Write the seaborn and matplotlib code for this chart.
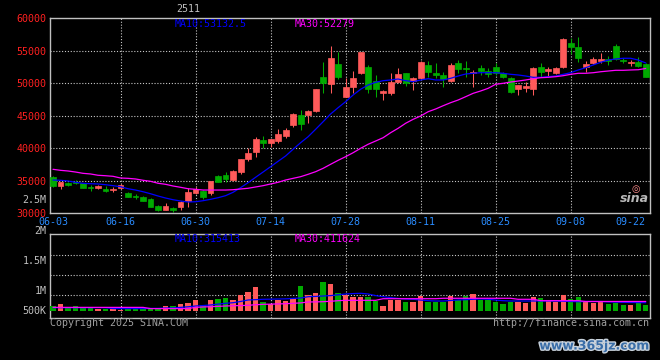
import numpy as np
import pandas as pd
import matplotlib
matplotlib.use("Agg")
import matplotlib.pyplot as plt
import matplotlib.patheffects as pe
import seaborn as sns

# trading days shown (06-03 .. 09-22)
dates = ["06-03", "06-04", "06-05", "06-06", "06-09", "06-10", "06-11", "06-12", "06-13", "06-16",
         "06-17", "06-18", "06-19", "06-20", "06-23", "06-24", "06-25", "06-26", "06-27", "06-30",
         "07-01", "07-02", "07-03", "07-04", "07-07", "07-08", "07-09", "07-10", "07-11", "07-14",
         "07-15", "07-16", "07-17", "07-18", "07-21", "07-22", "07-23", "07-24", "07-25", "07-28",
         "07-29", "07-30", "07-31", "08-01", "08-04", "08-05", "08-06", "08-07", "08-08", "08-11",
         "08-12", "08-13", "08-14", "08-15", "08-18", "08-19", "08-20", "08-21", "08-22", "08-25",
         "08-26", "08-27", "08-28", "08-29", "09-01", "09-02", "09-03", "09-04", "09-05", "09-08",
         "09-09", "09-10", "09-11", "09-12", "09-15", "09-16", "09-17", "09-18", "09-19", "09-22"]

open_ = [35630, 34200, 34710, 34820, 34620, 34100, 33890, 33780, 33540, 33850,
         33170, 32710, 32550, 32150, 31120, 30510, 30860, 30920, 31890, 33080,
         33480, 33170, 35740, 35890, 35120, 36350, 38310, 39430, 41230, 40860,
         41120, 41890, 43590, 45120, 45120, 45740, 50970, 49940, 52970, 47940,
         49480, 51660, 52550, 50400, 48460, 48550, 50250, 51540, 50350, 50770,
         52820, 51630, 51280, 50400, 53080, 52400, 51540, 52400, 51940, 52460,
         51540, 50860, 49120, 49320, 49120, 52510, 51890, 51630, 52460, 56250,
         55630, 52460, 53170, 53430, 53740, 55790, 53590, 53170, 53320, 52970]
high = [35700, 34830, 34860, 35120, 34700, 34350, 34350, 34200, 34000, 34510,
        33300, 33020, 32600, 32310, 31280, 31590, 31020, 31850, 33850, 34000,
        33600, 35000, 35940, 36350, 36600, 38400, 40000, 41740, 41890, 41500,
        42970, 43080, 45450, 45890, 45850, 49150, 53280, 55740, 54820, 50770,
        51890, 54850, 52820, 51280, 48970, 51540, 52310, 51600, 50900, 53480,
        53430, 53080, 51790, 53080, 53590, 53430, 52050, 52820, 52310, 53080,
        51790, 51020, 49800, 50250, 52550, 53080, 52550, 52450, 56900, 56920,
        57080, 53430, 54000, 54620, 54200, 56050, 53850, 53590, 54090, 53080]
low = [34000, 33780, 34200, 34510, 33900, 33480, 33690, 33300, 33230, 33690,
       32450, 32150, 31900, 30980, 30310, 30450, 30250, 30500, 30970, 32900,
       32250, 32820, 34800, 34860, 35000, 36090, 38050, 38710, 40000, 40250,
       40860, 41630, 43230, 42820, 43940, 45590, 48460, 48550, 50620, 47900,
       48460, 51400, 48460, 47940, 47430, 48200, 50000, 49590, 48970, 50600,
       51020, 50770, 49480, 50250, 51630, 51020, 49390, 51280, 51020, 51280,
       50770, 48460, 48200, 48710, 48200, 51020, 51120, 51500, 52300, 54510,
       53320, 51790, 52920, 53080, 52820, 53590, 53080, 52660, 52550, 50920]
close = [34200, 34815, 34350, 34620, 33940, 33890, 34200, 33480, 33690, 34400,
         32510, 32460, 31940, 31020, 30510, 31120, 30510, 31790, 33230, 33740,
         32550, 34970, 34860, 35280, 36510, 38350, 39280, 41430, 40860, 41430,
         42200, 42820, 45280, 43740, 45740, 49120, 50000, 53890, 51020, 49430,
         50770, 54820, 49080, 49120, 48860, 50250, 51430, 50000, 50860, 53230,
         51690, 51280, 50620, 52820, 52150, 52150, 51790, 51890, 51390, 51540,
         51020, 48710, 49740, 49590, 52400, 51740, 52200, 52400, 56820, 55630,
         53850, 52970, 53740, 53690, 53480, 53690, 53430, 53320, 52710, 51020]

ma10 = [35120, 35080, 34970, 34770, 34610, 34550, 34510, 34400, 34250, 34090,
        33780, 33580, 33320, 33010, 32660, 32350, 32090, 31890, 31740, 31780,
        31940, 32150, 32400, 32710, 33230, 33940, 34710, 35540, 36350, 37170,
        38000, 38820, 39850, 40860, 41780, 42920, 44090, 45280, 46250, 47170,
        48200, 49080, 49740, 50150, 50400, 50510, 50660, 50400, 50250, 50510,
        50710, 50510, 50510, 50770, 51120, 51430, 51540, 51630, 51630, 51630,
        51540, 51380, 51280, 51120, 50920, 50920, 51020, 51120, 51380, 51630,
        52050, 52400, 52820, 53230, 53580, 53740, 53850, 53850, 53580, 53130]
ma30 = [36770, 36610, 36510, 36350, 36150, 36050, 35850, 35780, 35690, 35430,
        35380, 35280, 35080, 34920, 34620, 34460, 34200, 34000, 33780, 33690,
        33580, 33580, 33580, 33580, 33630, 33740, 33850, 34050, 34250, 34510,
        34770, 35120, 35380, 35630, 36000, 36400, 36920, 37540, 38150, 38710,
        39320, 40000, 40620, 41120, 41630, 42400, 43080, 43850, 44460, 44970,
        45630, 46050, 46550, 47020, 47430, 47940, 48460, 48820, 49230, 49850,
        50000, 50200, 50350, 50510, 50710, 50860, 50920, 51020, 51170, 51380,
        51540, 51540, 51630, 51780, 51890, 52000, 52000, 52050, 52090, 52280]

# volume in thousands
volume_k = [234, 283, 192, 234, 192, 177, 160, 160, 160, 136,
            192, 192, 192, 177, 160, 234, 234, 283, 315, 382,
            259, 382, 406, 431, 382, 505, 579, 702, 333, 283,
            382, 357, 424, 727, 505, 554, 825, 776, 554, 517,
            463, 463, 448, 365, 234, 382, 382, 325, 325, 480,
            340, 340, 340, 480, 382, 480, 530, 382, 382, 340,
            283, 340, 340, 301, 456, 424, 365, 325, 505, 406,
            463, 365, 315, 340, 283, 315, 251, 259, 315, 251]
vol_ma10_k = [192, 192, 192, 192, 192, 192, 192, 192, 170, 170,
              170, 170, 170, 175, 175, 185, 185, 200, 215, 234,
              245, 259, 280, 300, 315, 345, 382, 390, 399, 402,
              406, 410, 420, 430, 463, 470, 480, 490, 510, 530,
              540, 547, 530, 490, 463, 440, 420, 406, 400, 380,
              365, 357, 357, 370, 382, 390, 400, 406, 400, 380,
              365, 357, 357, 357, 357, 357, 357, 357, 350, 345,
              340, 345, 345, 345, 335, 330, 325, 320, 318, 315]
vol_ma30_k = [200, 200, 200, 200, 200, 200, 200, 200, 200, 200,
              200, 200, 200, 170, 170, 170, 170, 170, 170, 200,
              210, 217, 225, 234, 240, 245, 251, 265, 275, 280,
              285, 290, 300, 310, 333, 335, 340, 350, 365, 374,
              374, 374, 374, 374, 414, 414, 414, 414, 414, 414,
              414, 414, 424, 424, 424, 424, 424, 424, 424, 424,
              424, 424, 399, 399, 399, 365, 365, 365, 365, 365,
              365, 345, 345, 345, 345, 345, 345, 345, 345, 345]

tick_labels = ["06-03", "06-16", "06-30", "07-14", "07-28", "08-11", "08-25", "09-08", "09-22"]
price_ticks = [30000, 35000, 40000, 45000, 50000, 55000, 60000]
vol_grid = [500000, 1000000, 1500000]
vol_label_text = ["2.5M", "2M", "1.5M", "1M", "500K"]
vol_label_y = [200, 231, 261, 291, 311]   # pixel rows used by the original

title = "2511"
price_ma_text = ["MA10:53132.5", "MA30:52279"]
vol_ma_text = ["MA10:315413", "MA30:411624"]

# styles
UP = "#ff5a5a"
DOWN = "#00aa00"
BLUE = "#0000ff"
MAGENTA = "#ff00ff"
GRAY = "#c0c0c0"
DATE_BLUE = "#2a8cff"
GRID = "#c8c8c8"
VOL_BASE = 110000
W, H = 660, 360

df = pd.DataFrame({"date": dates, "open": open_, "high": high, "low": low, "close": close,
                   "ma10": ma10, "ma30": ma30})
df["x"] = np.arange(len(df))
df["volume"] = np.array(volume_k) * 1000
df["vol_ma10"] = np.array(vol_ma10_k) * 1000
df["vol_ma30"] = np.array(vol_ma30_k) * 1000
df["color"] = np.where(df["close"] >= df["open"], UP, DOWN)
tick_pos = [dates.index(t) for t in tick_labels]

sns.set_theme(style="dark", rc={"axes.facecolor": "black", "figure.facecolor": "black"})
plt.rcParams["font.family"] = ["DejaVu Sans Mono", "DejaVu Sans"]
plt.rcParams["font.size"] = 7


def box(x0, y0, x1, y1):
    return [x0 / W, 1 - y1 / H, (x1 - x0) / W, (y1 - y0) / H]


def ftext(x, y, s, **kw):
    fig.text(x / W, 1 - y / H, s, va="center", **kw)


fig = plt.figure(figsize=(6.6, 3.6), dpi=100, facecolor="black")
ax = fig.add_axes(box(50, 18.3, 649.5, 213.3))
axv = fig.add_axes(box(50, 234.3, 649.5, 318))

dotted = (0, (1, 1.6))
for a in (ax, axv):
    a.set_facecolor("black")
    a.set_xlim(-0.4, 79.5)
    a.grid(False)
    for s in a.spines.values():
        s.set_color(GRAY)
        s.set_linewidth(1)
    for t in tick_pos[1:-1]:
        a.axvline(t, color=GRID, lw=0.8, ls=dotted, zorder=1)
    a.tick_params(length=0)

# price panel
ax.set_ylim(30000, 60000)
for p in price_ticks[1:-1]:
    ax.axhline(p, color=GRID, lw=0.8, ls=dotted, zorder=1)

body_lo = df[["open", "close"]].min(axis=1)
body_h = (df["close"] - df["open"]).abs()
ax.vlines(df["x"], df["low"], df["high"], colors=df["color"], linewidth=0.75, zorder=2)
ax.bar(df["x"], body_h, bottom=body_lo, width=0.78, color=df["color"],
       edgecolor=df["color"], linewidth=0.5, zorder=3)
sns.lineplot(x=df["x"], y=df["ma10"], ax=ax, color=BLUE, linewidth=0.9, zorder=4)
sns.lineplot(x=df["x"], y=df["ma30"], ax=ax, color=MAGENTA, linewidth=0.9, zorder=4)
ax.set_xlabel("")
ax.set_ylabel("")
ax.set_yticks(price_ticks, [str(p) for p in price_ticks])
ax.set_xticks(tick_pos, tick_labels)
ax.tick_params(axis="y", colors="#ff2020", labelsize=7.2, pad=2.4)
ax.tick_params(axis="x", colors=DATE_BLUE, labelsize=7.2, pad=2.9)
ax.get_xticklabels()[-1].set_horizontalalignment("right")

# volume panel
axv.set_ylim(-61600, 2000000)
for v in vol_grid:
    axv.axhline(v, color=GRID, lw=0.8, ls=dotted, zorder=1)
axv.bar(df["x"], df["volume"] - VOL_BASE, bottom=VOL_BASE, width=0.72,
        color=df["color"], linewidth=0, zorder=3)
sns.lineplot(x=df["x"], y=df["vol_ma10"], ax=axv, color=BLUE, linewidth=0.9, zorder=4)
sns.lineplot(x=df["x"], y=df["vol_ma30"], ax=axv, color=MAGENTA, linewidth=0.9, zorder=4)
axv.set_xlabel("")
axv.set_ylabel("")
axv.set_xticks(tick_pos, [])
axv.set_yticks([])

for s, y in zip(vol_label_text, vol_label_y):
    ftext(46.5, y, s, ha="right", color=GRAY, fontsize=7.2)

# header / legend texts
ftext(188, 9, title, ha="center", color=GRAY, fontsize=7.2)
ftext(175, 24, price_ma_text[0], ha="left", color=BLUE, fontsize=7.2)
ftext(295, 24, price_ma_text[1], ha="left", color=MAGENTA, fontsize=7.2)
ftext(175, 238.5, vol_ma_text[0], ha="left", color=BLUE, fontsize=7.2)
ftext(295, 238.5, vol_ma_text[1], ha="left", color=MAGENTA, fontsize=7.2)

# footer
ftext(50, 323.5, "Copyright 2025 SINA.COM", ha="left", color="#a0a0a0", fontsize=7.2)
ftext(649, 323.5, "http://finance.sina.com.cn", ha="right", color="#a0a0a0", fontsize=7.2)

# logos / watermark
ftext(636, 189, "\u25ce", ha="center", color="#ff8c8c", fontsize=7, family="DejaVu Sans")
ftext(634, 199, "sina", ha="center", color="#b8b8b8", fontsize=9, family="DejaVu Sans",
      style="italic", weight="bold")
ftext(594, 346, "www.365jz.com", ha="center", color="#3a6ea8", fontsize=9,
      family="DejaVu Sans", weight="bold",
      path_effects=[pe.withStroke(linewidth=2.0, foreground="#c8d2dc")])

fig.savefig("out.png", dpi=100, facecolor="black")
